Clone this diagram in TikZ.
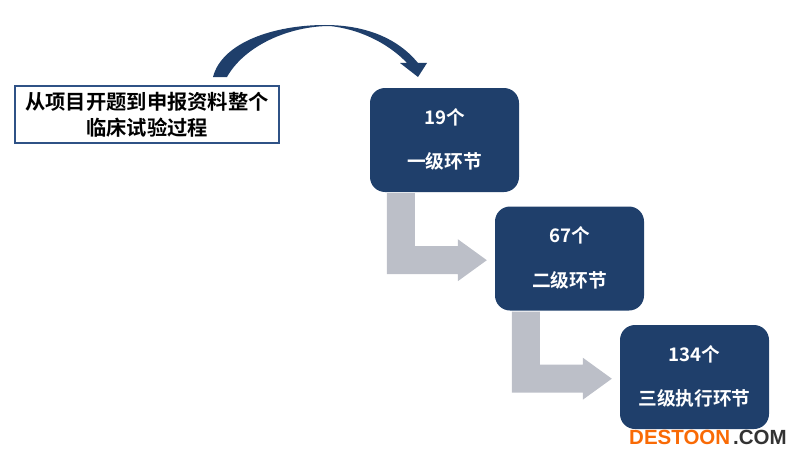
\documentclass[tikz,border=0pt]{standalone}
\usepackage{fontspec}
\setmainfont{Noto Sans CJK SC}[BoldFont={Noto Sans CJK SC Bold}]
\newfontfamily\markfont{Liberation Sans}
\definecolor{navy}{HTML}{1F3F6B}
\definecolor{edge}{HTML}{2F5286}
\definecolor{ashgray}{HTML}{BCBFC8}
\definecolor{markorange}{HTML}{F96A05}
\definecolor{markdark}{HTML}{333333}
\usetikzlibrary{positioning}
\begin{document}
\begin{tikzpicture}[x=1pt,y=-1pt,
     levelbox/.style={fill=navy,rounded corners=15pt,minimum width=149pt,minimum height=104pt},
     leveltext/.style={text=white,font=\fontsize{18.7}{18.7}\selectfont\bfseries},
     scopebox/.style={draw=edge,line width=2.2pt,fill=white,minimum width=264pt,minimum height=57pt,align=center,
        font=\fontsize{20.3}{26}\selectfont\bfseries},
     marktext/.style={inner sep=0pt,font=\markfont\bfseries\fontsize{20.5}{20.5}\selectfont},
     bentarrow/.style={fill=ashgray}
     ]
   \useasboundingbox (0,0) rectangle (800,460);

   % text box and the curved arrow over it
   \node[scopebox] (scopetext) at (147,114.5) {从项目开题到申报资料整个\\临床试验过程};
   \coordinate (curvestart) at (213,77);
   \fill[navy] (curvestart) .. controls (222,42) and (275,25) .. (325,25)
      .. controls (360,25) and (395,35) .. (418,63) -- (427,63) -- (418,77) -- (400,63) -- (407,63)
      .. controls (392,47) and (365,30) .. (330,26)
      .. controls (290,26) and (245,45) .. (227,77) -- cycle;

   % one box per level, each one shifted from the last
   \foreach \i/\num/\desc [evaluate=\i as \x using (444.5+125*\i), evaluate=\i as \y using (140+118.5*\i)]
      in {0/{19个}/{一级环节},
          1/{67个}/{二级环节},
          2/{134个}/{三级执行环节}}
   {
     \node[levelbox] (level\i) at (\x,\y) {};
     \node[leveltext] (num\i) at (\x,\y-23) {\num};
     \node[leveltext] (desc\i) at (\x,\y+21.5) {\desc};
   }

   % grey arrows leave from the bottom of one box
   \foreach \i in {0,1}
   {
     \fill[bentarrow] (level\i.south west) ++(17,1) -- ++(28,0) -- ++(0,53) -- ++(43,0) -- ++(0,-7)
        -- ++(29,21) -- ++(-29,21) -- ++(0,-7) -- ++(-71,0) -- cycle;
   }

   \node[marktext,anchor=west,text=markorange] (mark) at (629,437.5) {DESTOON};
   \node[marktext,text=markdark,right=2.5pt of mark] (markcom) {.COM};
\end{tikzpicture}
\end{document}
